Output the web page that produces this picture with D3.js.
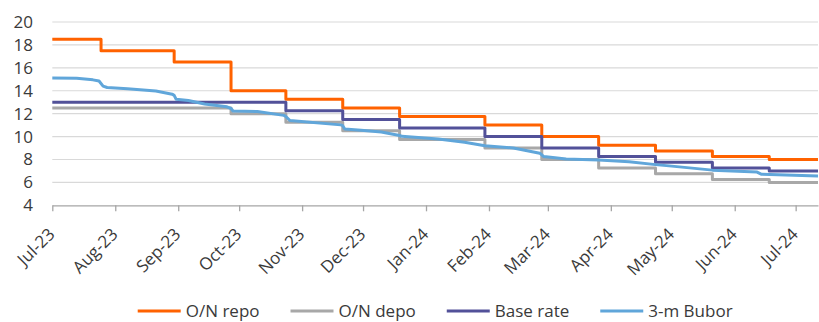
<!DOCTYPE html>
<html>
<head>
<meta charset="utf-8">
<script src="https://cdn.jsdelivr.net/npm/d3@7"></script>
<style>
  html, body { margin: 0; padding: 0; background: #fff; }
  svg { display: block; }
  text { font-family: "Open Sans", "DejaVu Sans", sans-serif; fill: #3a3a3a; }
</style>
</head>
<body>
<svg id="chart" width="819" height="322"></svg>
<script>
// Policy rate change dates (effective) and levels, %
const policyDates = ["2023-07-01", "2023-07-25", "2023-08-30", "2023-09-27", "2023-10-24",
  "2023-11-21", "2023-12-19", "2024-01-30", "2024-02-27", "2024-03-26",
  "2024-04-23", "2024-05-21", "2024-06-18"];
const onRepo   = [18.5, 17.5, 16.5, 14.0, 13.25, 12.5, 11.75, 11.0, 10.0, 9.25, 8.75, 8.25, 8.0];
const onDepo   = [12.5, 12.5, 12.5, 12.0, 11.25, 10.5, 9.75, 9.0, 8.0, 7.25, 6.75, 6.25, 6.0];
const baseRate = [13.0, 13.0, 13.0, 13.0, 12.25, 11.5, 10.75, 10.0, 9.0, 8.25, 7.75, 7.25, 7.0];

// 3-month BUBOR fixing, %
const buborDates = ["2023-07-01", "2023-07-13", "2023-07-21", "2023-07-24", "2023-07-26", "2023-07-28",
  "2023-08-07", "2023-08-21", "2023-08-29", "2023-08-30", "2023-08-31", "2023-09-06",
  "2023-09-14", "2023-09-25", "2023-09-27", "2023-09-28", "2023-10-10", "2023-10-23",
  "2023-10-24", "2023-10-26", "2023-11-20", "2023-11-21", "2023-11-22", "2023-11-30",
  "2023-12-10", "2023-12-19", "2023-12-20", "2024-01-07", "2024-01-20", "2024-01-30",
  "2024-02-13", "2024-02-26", "2024-02-28", "2024-03-10", "2024-03-26", "2024-04-10",
  "2024-04-23", "2024-05-01", "2024-05-21", "2024-06-12", "2024-06-14", "2024-07-12"];
const buborValues = [15.12, 15.1, 14.95, 14.85, 14.4, 14.28,
  14.17, 13.98, 13.7, 13.6, 13.25, 13.15,
  12.85, 12.6, 12.45, 12.23, 12.18, 11.85,
  11.75, 11.4, 11.02, 10.95, 10.66, 10.55,
  10.4, 10.1, 10.02, 9.78, 9.5, 9.2,
  9.0, 8.55, 8.25, 8.05, 7.95, 7.8,
  7.55, 7.42, 7.07, 6.9, 6.72, 6.56];

const endDate = "2024-07-12";
const yTicks = [4, 6, 8, 10, 12, 14, 16, 18, 20];
const seriesNames = ["O/N repo", "O/N depo", "Base rate", "3-m Bubor"];
const seriesColors = ["#ff6200", "#a8a8a8", "#525199", "#60a6da"];

const parse = d3.timeParse("%Y-%m-%d");
const svg = d3.select("#chart");

const x = d3.scaleTime()
  .domain([parse("2023-07-01"), parse(endDate)])
  .range([52.3, 818]);
const y = d3.scaleLinear().domain([4, 20]).range([205.3, 22]);

// Horizontal gridlines
svg.append("g").selectAll("line")
  .data(yTicks.filter(t => t > 4))
  .join("line")
  .attr("x1", x.range()[0]).attr("x2", x.range()[1])
  .attr("y1", d => y(d)).attr("y2", d => y(d))
  .attr("stroke", "#d9d9d9").attr("stroke-width", 1.2);

// Y axis labels
const yAxis = d3.axisLeft(y).tickValues(yTicks).tickSize(0).tickPadding(0);
svg.append("g")
  .attr("transform", "translate(33,0)")
  .call(yAxis)
  .call(g => g.select(".domain").remove())
  .call(g => g.selectAll("text").attr("font-size", 17).attr("font-family", null).attr("fill", "#3a3a3a"));

// X axis with monthly ticks
const xAxis = d3.axisBottom(x)
  .ticks(d3.timeMonth.every(1))
  .tickFormat(d3.timeFormat("%b-%y"))
  .tickSize(6).tickSizeOuter(0);
const gx = svg.append("g")
  .attr("transform", `translate(0,${y(4)})`)
  .call(xAxis);
gx.select(".domain").attr("stroke", "#a6a6a6").attr("stroke-width", 1.3);
gx.selectAll(".tick line").attr("stroke", "#a6a6a6").attr("stroke-width", 1.3);
gx.selectAll(".tick text")
  .attr("font-size", 17).attr("font-family", null).attr("fill", "#3a3a3a")
  .attr("text-anchor", "end")
  .attr("dy", 0).attr("y", 0)
  .attr("transform", "translate(3,30) rotate(-45)");

// Series lines
function stepSeries(values) {
  const pts = policyDates.map((d, i) => ({ date: parse(d), v: values[i] }));
  pts.push({ date: parse(endDate), v: values[values.length - 1] });
  return pts;
}
const stepLine = d3.line().x(d => x(d.date)).y(d => y(d.v)).curve(d3.curveStepAfter);
const plainLine = d3.line().x(d => x(d.date)).y(d => y(d.v));

const series = [
  { data: stepSeries(onRepo), gen: stepLine },
  { data: stepSeries(onDepo), gen: stepLine },
  { data: stepSeries(baseRate), gen: stepLine },
  { data: buborDates.map((d, i) => ({ date: parse(d), v: buborValues[i] })), gen: plainLine }
];
svg.append("g").selectAll("path")
  .data(series)
  .join("path")
  .attr("d", s => s.gen(s.data))
  .attr("fill", "none")
  .attr("stroke", (s, i) => seriesColors[i])
  .attr("stroke-width", 3)
  .attr("stroke-linejoin", "round");

// Legend, centred under the plot
const legend = svg.append("g");
const items = legend.selectAll("g").data(seriesNames).join("g");
items.append("line")
  .attr("x1", 0).attr("x2", 43).attr("y1", 0).attr("y2", 0)
  .attr("stroke", (d, i) => seriesColors[i]).attr("stroke-width", 3);
items.append("text")
  .attr("x", 48).attr("dy", "0.35em")
  .attr("font-size", 17)
  .text(d => d);
const gap = 31;
let offset = 0;
items.each(function () {
  const w = 48 + this.querySelector("text").getComputedTextLength();
  d3.select(this).attr("transform", `translate(${offset},0)`);
  offset += w + gap;
});
const totalW = offset - gap;
legend.attr("transform", `translate(${(x.range()[0] + x.range()[1]) / 2 - totalW / 2},311)`);
</script>
</body>
</html>
